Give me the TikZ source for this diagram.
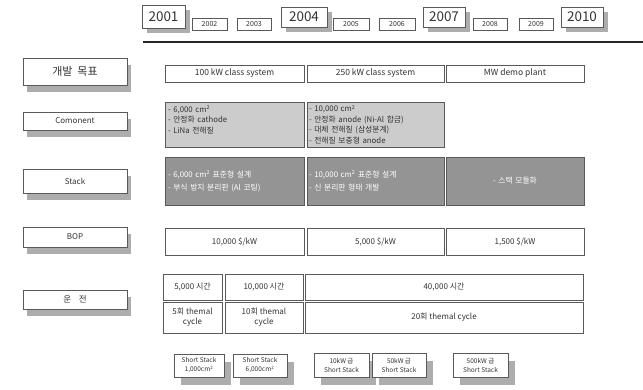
\documentclass[tikz,border=0pt]{standalone}
\usepackage{fontspec}
\setmainfont{Noto Sans CJK KR}
\usetikzlibrary{shadows}
\providecommand{\rmLineColor}{black!65}
\providecommand{\rmShadowColor}{black!32}
\providecommand{\rmCompColor}{black!20}
\providecommand{\rmStackColor}{black!42}
% one cell of the road map: style, name, x1, y1, x2, y2, text
\newcommand{\rmcell}[7]{%
  \node[#1, minimum width={#5-#3}, minimum height={#6-#4}] (#2)
    at ({(#3+#5)/2},{(#4+#6)/2}) {#7};}
\tikzset{
  rmbox/.style={draw=\rmLineColor, line width=0.6pt, fill=white, inner sep=1pt,
    text=black!80, font=\fontsize{8}{10}\selectfont, align=center},
  yearbig/.style={rmbox, font=\fontsize{13.5}{14}\selectfont,
    drop shadow={shadow xshift=5pt, shadow yshift=-5pt, fill=\rmShadowColor, opacity=1}},
  yearsmall/.style={rmbox, font=\fontsize{7}{8}\selectfont},
  rowlabel/.style={rmbox,
    drop shadow={shadow xshift=4pt, shadow yshift=-7pt, fill=\rmShadowColor, opacity=1}},
  comp/.style={rmbox, fill=\rmCompColor, text width=133pt, align=left,
    font=\fontsize{7.8}{10.5}\selectfont},
  stackcell/.style={rmbox, fill=\rmStackColor, text=white, text width=133pt, align=left,
    font=\fontsize{7.8}{13}\selectfont},
  milestone/.style={rmbox, font=\fontsize{6.5}{9}\selectfont,
    drop shadow={shadow xshift=7pt, shadow yshift=-8pt, fill=\rmShadowColor, opacity=1}},
}
\begin{document}
\begin{tikzpicture}[x=1pt, y=-1pt]
\useasboundingbox (0,0) rectangle (643,389);
% Years
\rmcell{yearbig}{y2001}{142}{5}{185}{28}{2001}
\rmcell{yearsmall}{y2002}{192}{18}{227}{30}{2002}
\rmcell{yearsmall}{y2003}{237}{18}{271}{30}{2003}
\rmcell{yearbig}{y2004}{281}{7}{327}{27}{2004}
\rmcell{yearsmall}{y2005}{333}{18}{369}{30}{2005}
\rmcell{yearsmall}{y2006}{379}{18}{415}{30}{2006}
\rmcell{yearbig}{y2007}{423}{7}{465}{27}{2007}
\rmcell{yearsmall}{y2008}{473}{18}{507}{30}{2008}
\rmcell{yearsmall}{y2009}{519}{18}{553}{30}{2009}
\rmcell{yearbig}{y2010}{561}{7}{603}{27}{2010}
\coordinate (lineL) at (143,42);
\coordinate (lineR) at (643,42);
\draw[line width=2.2pt, black!85] (lineL) -- (lineR);
% Row labels
\rmcell{rowlabel, font=\fontsize{11}{12}\selectfont}{lGoal}{23}{58}{127}{85}{개발\ \ 목표}
\rmcell{rowlabel}{lComp}{23}{112}{127}{130}{Comonent}
\rmcell{rowlabel}{lStack}{23}{169}{127}{193}{Stack}
\rmcell{rowlabel}{lBop}{23}{227}{127}{247}{BOP}
\rmcell{rowlabel, font=\fontsize{8.5}{9}\selectfont}{lOper}{23}{290}{127}{309}{운\ \ \ \ 전}
% Goals
\rmcell{rmbox, font=\fontsize{8.5}{10}\selectfont}{g1}{165}{65}{304}{82}{100 kW class system}
\rmcell{rmbox, font=\fontsize{8.5}{10}\selectfont}{g2}{307}{65}{444}{82}{250 kW class system}
\rmcell{rmbox, font=\fontsize{8.5}{10}\selectfont}{g3}{446}{65}{584}{82}{MW demo plant}
% Components
\rmcell{comp}{c1}{165}{102}{304}{147}{- 6,000 cm\textsuperscript{2}\\- 안정화 cathode\\- LiNa 전해질\\\mbox{}}
\rmcell{comp}{c2}{307}{102}{444}{147}{- 10,000 cm\textsuperscript{2}\\- 안정화 anode (Ni-Al 합금)\\- 대체 전해질 (삼성분계)\\- 전해질 보충형 anode}
% Stack
\rmcell{stackcell}{s1}{165}{157}{304}{205}{- 6,000 cm\textsuperscript{2} 표준형 설계\\- 부식 방지 분리판 (Al 코팅)}
\rmcell{stackcell}{s2}{307}{157}{444}{205}{- 10,000 cm\textsuperscript{2} 표준형 설계\\- 신 분리판 형태 개발}
\rmcell{stackcell, align=center}{s3}{446}{157}{584}{205}{- 스택 모듈화}
% BOP
\rmcell{rmbox}{b1}{165}{228}{304}{255}{10,000 \$/kW}
\rmcell{rmbox}{b2}{307}{228}{444}{255}{5,000 \$/kW}
\rmcell{rmbox}{b3}{446}{228}{584}{255}{1,500 \$/kW}
% Operation
\rmcell{rmbox}{h1}{163}{274}{222}{300}{5,000 시간}
\rmcell{rmbox}{h2}{225}{274}{303}{300}{10,000 시간}
\rmcell{rmbox}{h3}{305}{274}{583}{300}{40,000 시간}
\rmcell{rmbox}{t1}{163}{302}{222}{333}{5회 themal\\cycle}
\rmcell{rmbox}{t2}{225}{302}{303}{333}{10회 themal\\cycle}
\rmcell{rmbox}{t3}{305}{302}{583}{333}{20회 themal cycle}
% Short stacks
\rmcell{milestone}{m1}{174}{354}{224}{377}{Short Stack\\1,000cm\textsuperscript{2}}
\rmcell{milestone}{m2}{233}{354}{287}{377}{Short Stack\\6,000cm\textsuperscript{2}}
\rmcell{milestone}{m3}{314}{353}{369}{377}{10kW 급\\Short Stack}
\rmcell{milestone}{m4}{372}{353}{426}{377}{50kW 급\\Short Stack}
\rmcell{milestone}{m5}{453}{353}{508}{377}{500kW 급\\Short Stack}
\end{tikzpicture}
\end{document}
